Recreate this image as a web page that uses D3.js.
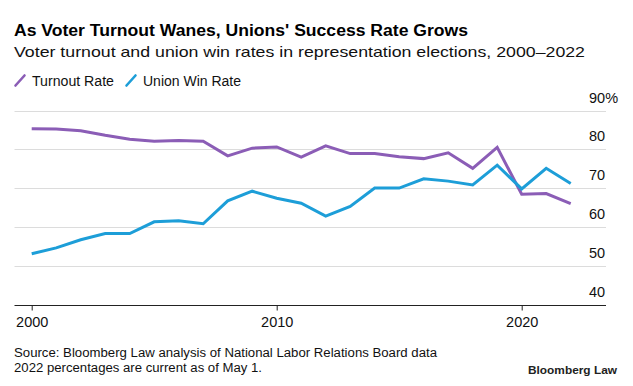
<!DOCTYPE html>
<html>
<head>
<meta charset="utf-8">
<script src="https://cdn.jsdelivr.net/npm/d3@7"></script>
<style>
  body { margin: 0; background: #fff; }
  svg { display: block; font-family: "Liberation Sans", Arial, Helvetica, sans-serif; }
</style>
</head>
<body>
<div id="chart"></div>
<script>
// data
const years = [2000, 2001, 2002, 2003, 2004, 2005, 2006, 2007, 2008, 2009, 2010, 2011,
               2012, 2013, 2014, 2015, 2016, 2017, 2018, 2019, 2020, 2021, 2022];
const turnoutRate = [85.3, 85.2, 84.8, 83.6, 82.6, 82.1, 82.3, 82.1, 78.3, 80.3, 80.6, 78.0,
                     80.9, 78.9, 78.9, 78.1, 77.6, 79.1, 75.1, 80.5, 68.4, 68.6, 66.0];
const unionWinRate = [53.1, 54.6, 56.7, 58.3, 58.3, 61.3, 61.6, 60.8, 66.7, 69.2, 67.4, 66.1,
                      62.8, 65.3, 70.0, 70.0, 72.4, 71.8, 70.8, 75.9, 69.8, 75.1, 71.2];
const yTicks = [40, 50, 60, 70, 80, 90];
const xTicks = [2000, 2010, 2020];

const seriesNames = ["Turnout Rate", "Union Win Rate"];
const seriesColors = ["#8b5db6", "#1d9ed8"];

window.onload = () => {
  const W = 633, H = 386;
  const svg = d3.select("#chart").append("svg")
    .attr("width", W).attr("height", H);

  // titles
  svg.append("text").attr("x", 14).attr("y", 36)
    .attr("font-size", 16).attr("font-weight", "bold").attr("fill", "#000")
    .attr("textLength", 454).attr("lengthAdjust", "spacingAndGlyphs")
    .text("As Voter Turnout Wanes, Unions' Success Rate Grows");
  svg.append("text").attr("x", 14).attr("y", 56.5)
    .attr("font-size", 15).attr("fill", "#111")
    .attr("textLength", 571).attr("lengthAdjust", "spacingAndGlyphs")
    .text("Voter turnout and union win rates in representation elections, 2000\u20132022");

  // legend
  const legX = [15, 126];
  const legTextW = [82, 98];
  seriesNames.forEach((name, i) => {
    const g = svg.append("g").attr("transform", `translate(${legX[i]},0)`);
    g.append("line").attr("x1", 0.5).attr("y1", 85.5).attr("x2", 9.5).attr("y2", 75.5)
      .attr("stroke", seriesColors[i]).attr("stroke-width", 2.6).attr("stroke-linecap", "round");
    g.append("text").attr("x", 17).attr("y", 85.5)
      .attr("font-size", 14).attr("fill", "#111")
      .attr("textLength", legTextW[i]).attr("lengthAdjust", "spacingAndGlyphs")
      .text(name);
  });

  const x = d3.scaleLinear().domain([2000, 2020]).range([31.7, 521.7]);
  const y = d3.scaleLinear().domain([40, 90]).range([304.5, 110.5]);
  const gridLeft = 14.5, gridRight = 606;

  // gridlines
  svg.append("g").selectAll("line").data(yTicks.filter(d => d > 40)).join("line")
    .attr("x1", gridLeft).attr("x2", gridRight)
    .attr("y1", d => Math.round(y(d)) + 0.5).attr("y2", d => Math.round(y(d)) + 0.5)
    .attr("stroke", "#dcdcdc").attr("stroke-width", 1);

  // y labels, right side above lines
  svg.append("g").selectAll("text").data(yTicks).join("text")
    .attr("x", 589).attr("y", d => y(d) - 8)
    .attr("font-size", 14.5).attr("fill", "#111")
    .text(d => d === 90 ? "90%" : d);

  // x axis
  const xAxis = d3.axisBottom(x).tickValues(xTicks).tickSize(5).tickPadding(6)
    .tickFormat(d3.format("d"));
  const gx = svg.append("g").attr("transform", `translate(0,${Math.round(y(40)) + 0.5})`).call(xAxis);
  gx.select(".domain").attr("d", `M${gridLeft},0H${gridRight}`).attr("stroke", "#222");
  gx.selectAll(".tick line").attr("stroke", "#222");
  gx.selectAll(".tick text").attr("font-size", 14.5).attr("fill", "#111")
    .attr("font-family", "Liberation Sans, Arial, sans-serif");

  // lines
  const line = d3.line().x(d => x(d[0])).y(d => y(d[1]));
  [turnoutRate, unionWinRate].forEach((vals, i) => {
    svg.append("path")
      .datum(years.map((yr, j) => [yr, vals[j]]))
      .attr("d", line)
      .attr("fill", "none")
      .attr("stroke", seriesColors[i])
      .attr("stroke-width", 3)
      .attr("stroke-linejoin", "miter");
  });

  // footer
  svg.append("text").attr("x", 14).attr("y", 356.7)
    .attr("font-size", 12.3).attr("fill", "#111")
    .attr("textLength", 423).attr("lengthAdjust", "spacingAndGlyphs")
    .text("Source: Bloomberg Law analysis of National Labor Relations Board data");
  svg.append("text").attr("x", 14).attr("y", 372.3)
    .attr("font-size", 12.3).attr("fill", "#111")
    .attr("textLength", 248).attr("lengthAdjust", "spacingAndGlyphs")
    .text("2022 percentages are current as of May 1.");
  svg.append("text").attr("x", 528).attr("y", 374)
    .attr("font-size", 11.5).attr("font-weight", "bold").attr("fill", "#222")
    .attr("textLength", 89).attr("lengthAdjust", "spacingAndGlyphs")
    .text("Bloomberg Law");
};
</script>
</body>
</html>
